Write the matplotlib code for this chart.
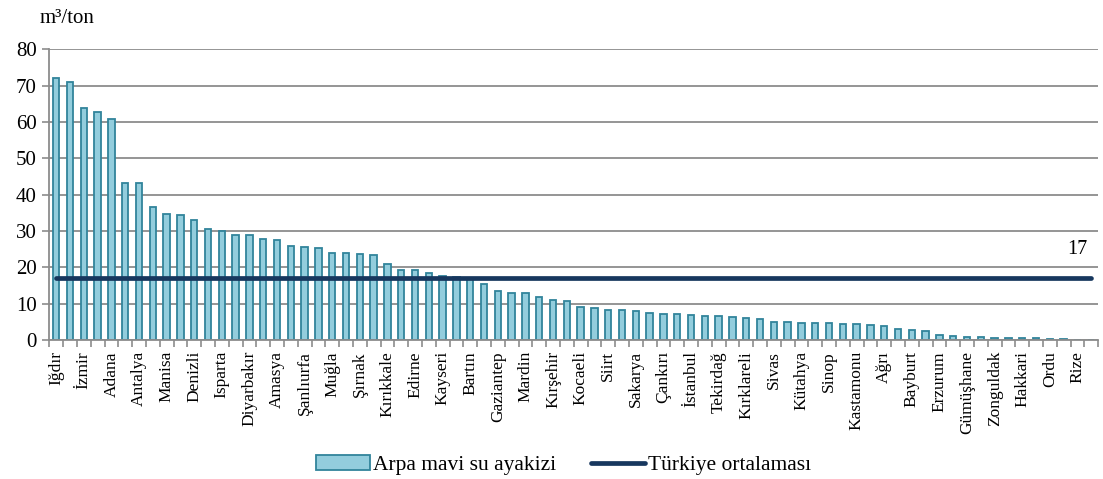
import matplotlib.pyplot as plt
import numpy as np

# province names (only every other bar is labelled on the axis)
provinces = ['Iğdır', 'İzmir', 'Adana', 'Antalya', 'Manisa', 'Denizli', 'Isparta',
             'Diyarbakır', 'Amasya', 'Şanlıurfa', 'Muğla', 'Şırnak', 'Kırıkkale',
             'Edirne', 'Kayseri', 'Bartın', 'Gaziantep', 'Mardin', 'Kırşehir',
             'Kocaeli', 'Siirt', 'Sakarya', 'Çankırı', 'İstanbul', 'Tekirdağ',
             'Kırklareli', 'Sivas', 'Kütahya', 'Sinop', 'Kastamonu', 'Ağrı',
             'Bayburt', 'Erzurum', 'Gümüşhane', 'Zonguldak', 'Hakkari', 'Ordu', 'Rize']

# blue water footprint of barley, m3/ton
blue_wf = [72.2, 71.0, 63.9, 62.8, 60.7, 43.3, 43.3, 36.7, 34.7, 34.4,
           33.0, 30.6, 30.0, 29.0, 29.0, 27.8, 27.5, 26.0, 25.5, 25.3,
           24.0, 23.9, 23.6, 23.3, 20.9, 19.4, 19.2, 18.4, 17.7, 17.4,
           16.9, 15.4, 13.4, 13.0, 12.8, 11.7, 11.1, 10.7, 9.2, 8.8,
           8.35, 8.2, 8.1, 7.3, 7.25, 7.1, 6.8, 6.5, 6.5, 6.4,
           6.05, 5.7, 5.05, 4.95, 4.8, 4.65, 4.6, 4.5, 4.3, 4.1,
           3.85, 3.0, 2.85, 2.55, 1.5, 1.2, 0.85, 0.85, 0.65, 0.55,
           0.45, 0.45, 0.35, 0.35, 0.0, 0.0]

turkiye_avg = 17

plt.rcParams['font.family'] = ['Liberation Serif', 'DejaVu Serif']

x = np.arange(len(blue_wf))

fig = plt.figure(figsize=(11.03, 4.79), dpi=100)
ax = fig.add_axes([0.0447, 0.2902, 0.9509, 0.6068])

bars = ax.bar(x, blue_wf, width=0.46, color='#93CDDD', edgecolor='#31849B', linewidth=1.3,
              label='Arpa mavi su ayakizi', zorder=2)
avg_line, = ax.plot(x, [turkiye_avg] * len(x), color='#17375E', linewidth=3.4,
                    solid_capstyle='round', label='Türkiye ortalaması', zorder=3)
ax.annotate(str(turkiye_avg), (x[-1], turkiye_avg), xytext=(-14, 29),
            textcoords='offset pixels', ha='center', va='center', fontsize=14.5)

ax.set_xlim(-0.5, len(x) - 0.5)
ax.set_ylim(0, 80)
ax.set_yticks(np.arange(0, 81, 10))
ax.yaxis.grid(True, color='#8C8C8C', linewidth=1.3, zorder=0)
ax.set_axisbelow(True)

# tick marks on category boundaries, names on every other bar
ax.set_xticks(np.arange(-0.5, len(x), 1))
ax.set_xticklabels([])
ax.set_xticks(x[::2], minor=True)
ax.set_xticklabels(provinces, minor=True, rotation=90, fontsize=12.5)
ax.tick_params(axis='x', which='major', length=5, color='#8C8C8C', width=1.2)
ax.tick_params(axis='x', which='minor', length=0, pad=8)
ax.tick_params(axis='y', length=5, color='#8C8C8C', width=1.2, labelsize=15, pad=4)

for s in ['top', 'right']:
    ax.spines[s].set_visible(False)
for s in ['left', 'bottom']:
    ax.spines[s].set_color('#8C8C8C')
    ax.spines[s].set_linewidth(1.3)

fig.text(0.036, 0.962, 'm³/ton', fontsize=15, va='center')

ax.legend(handles=[bars, avg_line], loc='center', bbox_to_anchor=(0.511, 0.029),
          bbox_transform=fig.transFigure, ncol=2, frameon=False, fontsize=15.5,
          handlelength=2.5, handletextpad=0.15, columnspacing=1.6)

fig.savefig('out.png', dpi=100)
